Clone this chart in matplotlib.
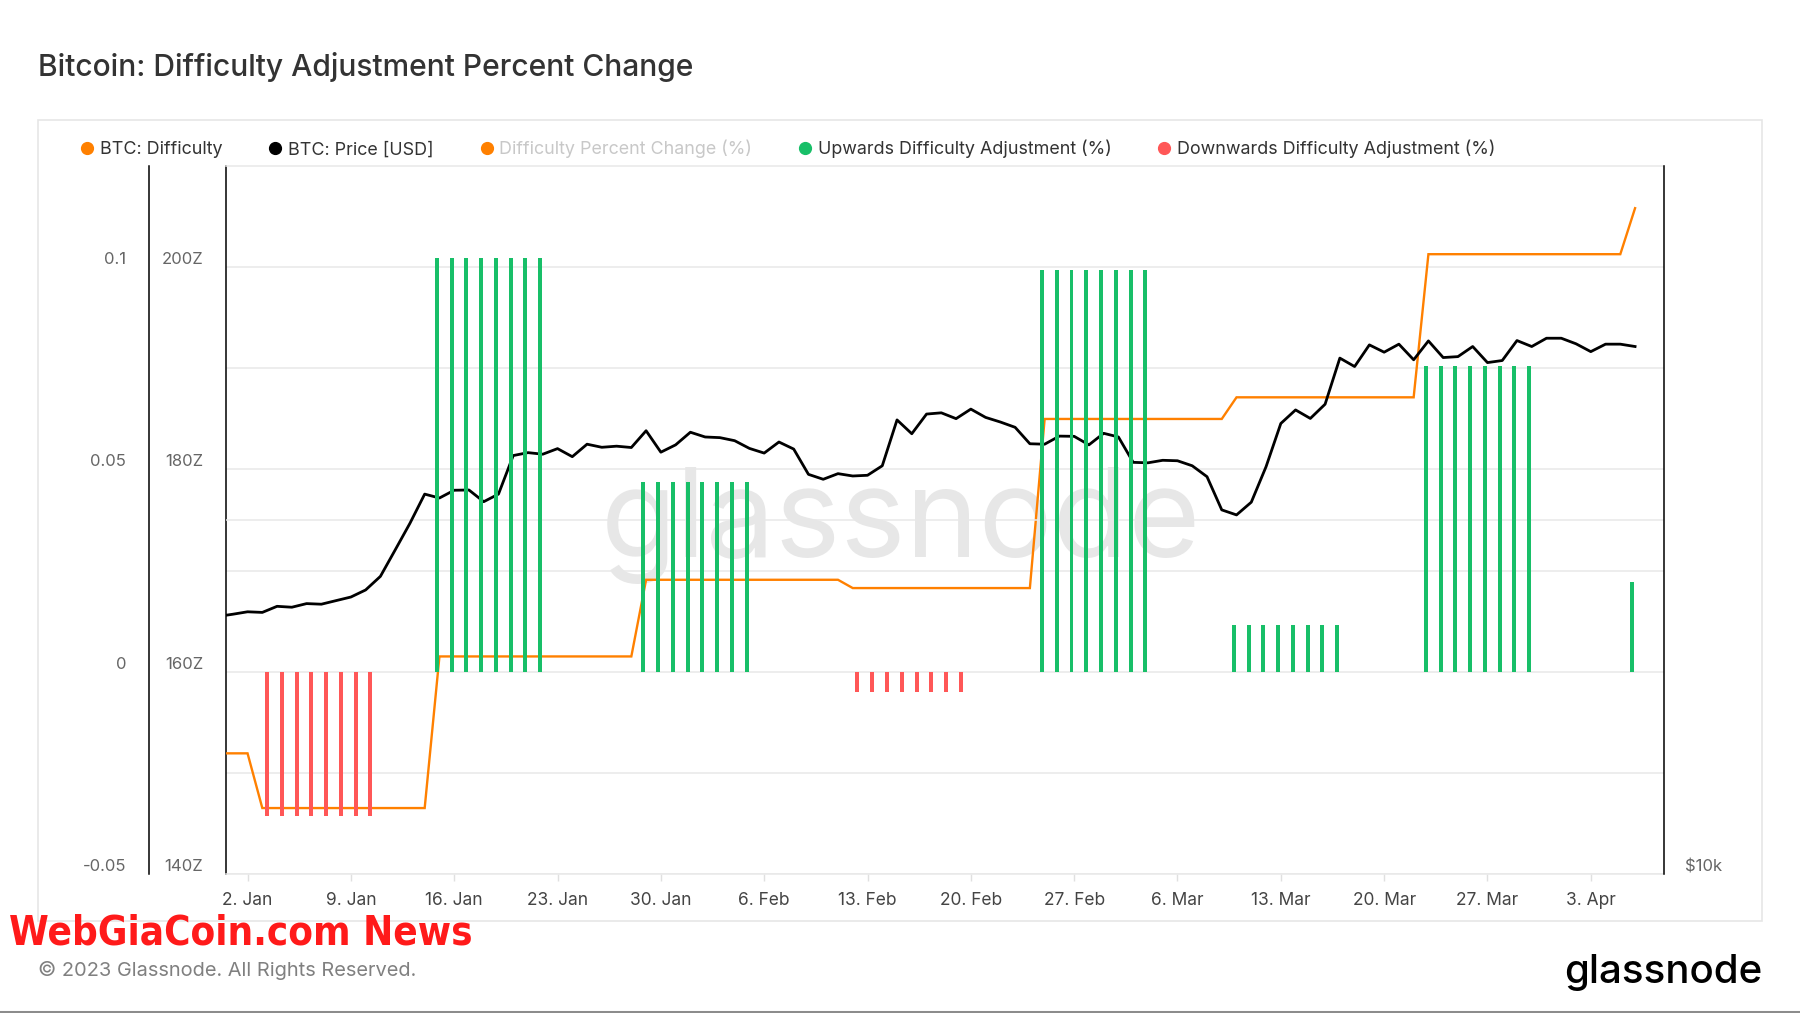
import matplotlib
matplotlib.use('Agg')
import matplotlib.pyplot as plt
import matplotlib.ticker as mticker
from matplotlib import font_manager as fm
from matplotlib.lines import Line2D
from matplotlib.patches import Rectangle
import pandas as pd

plt.rcParams['font.family'] = ['Inter', 'DejaVu Sans']

# ---------------- data ----------------
price_usd = [16560, 16630, 16710, 16690, 16890, 16860, 16980, 16960, 17080, 17200,
             17440, 17910, 18860, 19870, 21040, 20880, 21200, 21210, 20730, 21040,
             22690, 22820, 22750, 23000, 22640, 23200, 23060, 23110, 23050, 23820,
             22840, 23170, 23750, 23530, 23500, 23360, 23010, 22800, 23300, 22980,
             21870, 21660, 21900, 21800, 21830, 22240, 24330, 23680, 24610, 24670,
             24390, 24850, 24450, 24230, 23980, 23220, 23200, 23570, 23560, 23170,
             23700, 23530, 22390, 22370, 22480, 22460, 22240, 21770, 20400, 20200,
             20710, 22200, 24160, 24810, 24400, 25090, 27460, 27010, 28180, 27780,
             28220, 27370, 28400, 27490, 27540, 28090, 27220, 27330, 28420, 28090,
             28550, 28550, 28240, 27810, 28220, 28220, 28090]

difficulty_z = ([151.93] * 3 + [146.52] * 12 + [161.51] * 14 + [169.09] * 14 +
                [168.27] * 13 + [184.99] * 13 + [187.13] * 13 + [201.28] * 14 +
                [205.83] * 1)

dates = pd.date_range('2022-12-31', periods=len(price_usd), freq='D')

up_start = ['2023-01-15', '2023-01-29', '2023-02-25', '2023-03-10', '2023-03-23', '2023-04-06']
up_days = [8, 8, 8, 8, 8, 1]
up_pct = [0.1023, 0.0469, 0.0994, 0.0116, 0.0756, 0.0222]

down_start = ['2023-01-03', '2023-02-12']
down_days = [8, 8]
down_pct = [-0.0356, -0.0049]

tick_dates = pd.date_range('2023-01-02', '2023-04-03', freq='7D')
tick_labels = ['2. Jan', '9. Jan', '16. Jan', '23. Jan', '30. Jan', '6. Feb', '13. Feb',
               '20. Feb', '27. Feb', '6. Mar', '13. Mar', '20. Mar', '27. Mar', '3. Apr']

legend_labels = ['BTC: Difficulty', 'BTC: Price [USD]', 'Difficulty Percent Change (%)',
                 'Upwards Difficulty Adjustment (%)', 'Downwards Difficulty Adjustment (%)']

pct_ticks = [-0.05, 0, 0.05, 0.1]
pct_tick_labels = ['-0.05', '0', '0.05', '0.1']
z_ticks = [140, 160, 180, 200]
z_tick_labels = ['140Z', '160Z', '180Z', '200Z']

# ---------------- style ----------------
ORANGE = '#ff8000'
GREEN = '#18bf68'
RED = '#ff5757'
GRID = '#e8e8e8'
W, H = 1800, 1013
UP_SHIFT = pd.Timedelta(days=-0.18)    # grouped-column slot of the "up" series
DOWN_SHIFT = pd.Timedelta(days=0.32)   # grouped-column slot of the "down" series

fig = plt.figure(figsize=(W / 100, H / 100), dpi=100)
fig.patch.set_facecolor('white')

# outer frame
fig.add_artist(Rectangle((38 / W, 1 - 921 / H), (1762 - 38) / W, (921 - 120) / H,
                         transform=fig.transFigure, fill=False, edgecolor='#e6e6e6', lw=1.2))
fig.add_artist(Line2D([0, 1], [1.2 / H, 1.2 / H], transform=fig.transFigure,
                      color='#8c8c8c', lw=2.2))

ax = fig.add_axes([226 / W, 1 - 874 / H, (1664 - 226) / W, (874 - 166) / H])
ax_price = ax.twinx()
ax_pct = ax.twinx()

x0 = pd.Timestamp('2023-01-02') - pd.Timedelta(days=1.46)
x1 = pd.Timestamp('2023-01-02') + pd.Timedelta(days=95.96)
ax.set_xlim(x0, x1)

# Difficulty (Z axis, main)
ax.set_ylim(140, 210)
ax.plot(dates, difficulty_z, color=ORANGE, lw=1.7, zorder=3, solid_joinstyle='miter')
ax.set_yticks(z_ticks)
ax.set_yticks([150, 170, 190], minor=True)
ax.yaxis.set_major_formatter(mticker.FixedFormatter(z_tick_labels))
ax.grid(True, axis='y', which='both', color=GRID, lw=1.1, zorder=0)
ax.set_axisbelow(True)
ax.tick_params(axis='y', which='both', length=0, pad=16.5, labelsize=12, labelcolor='#666666')
ax.set_xticks(tick_dates)
ax.set_xticklabels(tick_labels)
ax.tick_params(axis='x', length=5, width=1, color='#e0e0e0', pad=8, labelsize=12.5,
               labelcolor='#444444')
for s in ('top', 'bottom'):
    ax.spines[s].set_color(GRID)
    ax.spines[s].set_linewidth(1.1)
ax.spines['left'].set_color('black')
ax.spines['left'].set_linewidth(1.1)
ax.spines['right'].set_visible(False)

ax.text(0.469, 0.448, 'glassnode', transform=ax.transAxes, ha='center', va='baseline',
        fontsize=89, color='#e7e7e7', zorder=0.5)

# Price (log, right)
ax_price.set_yscale('log')
ax_price.set_ylim(10000, 40000)
ax_price.plot(dates, price_usd, color='black', lw=2.0, zorder=3)
ax_price.axhline(20000, color=GRID, lw=1.1, zorder=0.5)
ax_price.yaxis.set_major_locator(mticker.FixedLocator([10000]))
ax_price.yaxis.set_minor_locator(mticker.NullLocator())
ax_price.yaxis.set_major_formatter(mticker.FixedFormatter(['$10k']))
ax_price.tick_params(axis='y', length=0, pad=15, labelsize=12, labelcolor='#666666')
for s in ('top', 'bottom', 'left'):
    ax_price.spines[s].set_visible(False)
ax_price.spines['right'].set_color('black')
ax_price.spines['right'].set_linewidth(1.1)

# Percent change bars (outer left axis)
ax_pct.set_ylim(-0.05, 0.125)
ax_pct.yaxis.tick_left()
ax_pct.yaxis.set_label_position('left')
for s in ('top', 'bottom', 'right'):
    ax_pct.spines[s].set_visible(False)
ax_pct.spines['left'].set_visible(True)
ax_pct.spines['left'].set_position(('outward', 77 * 0.72))
ax_pct.spines['left'].set_color('black')
ax_pct.spines['left'].set_linewidth(1.1)
ax_pct.set_yticks(pct_ticks)
ax_pct.yaxis.set_major_formatter(mticker.FixedFormatter(pct_tick_labels))
ax_pct.tick_params(axis='y', length=0, pad=16.5, labelsize=12, labelcolor='#666666')

for start, n, v in zip(up_start, up_days, up_pct):
    bd = pd.date_range(start, periods=n, freq='D') + UP_SHIFT
    ax_pct.bar(bd, [v] * n, width=0.27, color=GREEN, zorder=4)
for start, n, v in zip(down_start, down_days, down_pct):
    bd = pd.date_range(start, periods=n, freq='D') + DOWN_SHIFT
    ax_pct.bar(bd, [v] * n, width=0.27, color=RED, zorder=4)

for a in (ax, ax_price, ax_pct):
    for lab in a.get_yticklabels():
        lab.set_verticalalignment('bottom')

# legend
colors = [ORANGE, 'black', ORANGE, GREEN, RED]
handles = [Line2D([], [], ls='none', marker='o', ms=8.5, mfc=c, mec=c) for c in colors]
leg = fig.legend(handles, legend_labels, loc='center left', bbox_to_anchor=(81 / W, 1 - 149 / H),
                 ncol=5, frameon=False, fontsize=12.9, handlelength=0.7, handletextpad=0.36,
                 columnspacing=2.6, borderpad=0, borderaxespad=0)
for i, t in enumerate(leg.get_texts()):
    t.set_color('#c8c8c8' if i == 2 else '#333333')

# texts
fig.text(38 / W, 1 - 67 / H, 'Bitcoin: Difficulty Adjustment Percent Change', ha='left',
         va='center', fontsize=21.6, color='#333333', fontweight='medium')
fig.text(38 / W, 1 - 970 / H, '© 2023 Glassnode. All Rights Reserved.', ha='left',
         va='center', fontsize=14.4, color='#808080')
fig.text(1762 / W, 1 - 983 / H, 'glassnode', ha='right', va='baseline', fontsize=29,
         color='black', fontweight='medium')

# overlay caption in a condensed bold face if one is installed
cond = [f.fname for f in fm.fontManager.ttflist
        if any(k in f.fname for k in ('Condensed', 'Narrow'))
        and 'Bold' in f.fname and 'Italic' not in f.fname and 'Oblique' not in f.fname
        and 'Semi' not in f.fname and 'Extra' not in f.fname]
cond.sort(key=lambda p: (0 if 'Sans' in p else 1, p))
if cond:
    wm_prop = fm.FontProperties(fname=cond[0], size=32.5)
else:
    wm_prop = fm.FontProperties(family='DejaVu Sans', weight='bold', size=32.5)
wm = fig.text(9 / W, 1 - 944 / H, 'WebGiaCoin.com News', ha='left', va='baseline',
              color='#ff1a1a', fontproperties=wm_prop)
fig.canvas.draw()
wm_w = wm.get_window_extent().width
target_w = 464.0
if wm_w > target_w:
    wm.set_fontsize(32.5 * target_w / wm_w)

fig.savefig('out.png', dpi=100, facecolor='white')
